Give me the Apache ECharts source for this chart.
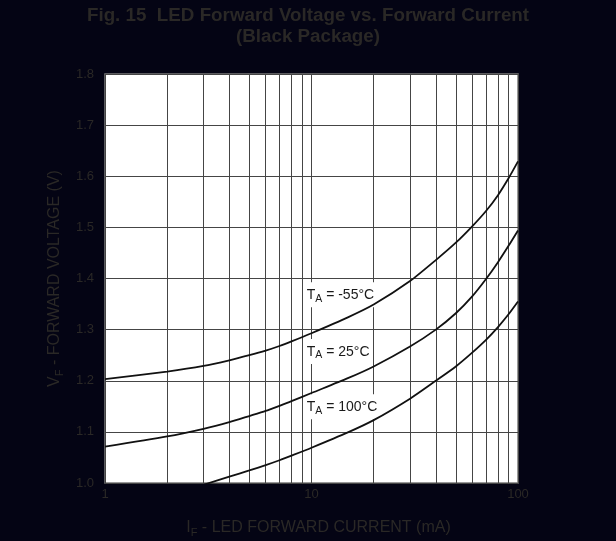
<!DOCTYPE html>
<html><head><meta charset="utf-8">
<script src="https://cdn.jsdelivr.net/npm/echarts@6/dist/echarts.min.js"></script>
<style>html,body{margin:0;padding:0;background:#040414;}#c{width:616px;height:541px;}</style>
</head><body><div id="c"></div>
<script>
// Forward current (mA)
const currents = [1, 2, 3, 4, 5, 6, 7, 8, 10, 15, 20, 30, 40, 50, 60, 70, 80, 90, 100];
// Forward voltage (V) per ambient temperature
const vMinus55 = [1.203, 1.218, 1.229, 1.240, 1.250, 1.259, 1.268, 1.277, 1.293, 1.324, 1.349, 1.395, 1.436, 1.470, 1.502, 1.532, 1.563, 1.596, 1.629];
const v25      = [1.071, 1.091, 1.106, 1.119, 1.131, 1.141, 1.151, 1.160, 1.176, 1.205, 1.228, 1.267, 1.300, 1.332, 1.365, 1.399, 1.432, 1.464, 1.494];
const v100     = [null, null, 0.9965, 1.0125, 1.0245, 1.035, 1.0445, 1.0535, 1.069, 1.099, 1.123, 1.165, 1.200, 1.228, 1.255, 1.280, 1.305, 1.330, 1.355];
const tempLabels = ['-55°C', '25°C', '100°C'];
// Axis ticks
const xTickValues = [1, 10, 100];
const xTickLabels = ['1', '10', '100'];
const xMinorGrid = [2, 3, 4, 5, 6, 7, 8, 9, 20, 30, 40, 50, 60, 70, 80, 90];
const yTickLabels = ['1.0', '1.1', '1.2', '1.3', '1.4', '1.5', '1.6', '1.7', '1.8'];

const TXT = '#2a2826';
const GRIDC = '#454545';
const FONT = 'Liberation Sans, Arial';
const pairs = (ys) => currents.map((x, i) => [x, ys[i]]).filter(p => p[1] !== null);

function curve(ys, label, coord) {
  return {
    type: 'line', data: pairs(ys), smooth: 0.25, showSymbol: false, symbol: 'none',
    lineStyle: { color: '#111', width: 1.8 }, z: 5, clip: true,
    markPoint: {
      symbol: 'circle', symbolSize: 0, silent: true,
      data: [{ coord: coord }],
      label: {
        show: true, position: 'right', distance: 0,
        backgroundColor: '#ffffff', padding: [4, 2, 3, 2],
        formatter: '{t|T}{s|A}{t| = ' + label + '}',
        rich: {
          t: { fontSize: 14, color: '#1a1a1a', fontFamily: FONT, lineHeight: 18 },
          s: { fontSize: 10.5, color: '#1a1a1a', fontFamily: FONT, lineHeight: 10, verticalAlign: 'bottom' }
        }
      }
    }
  };
}

const chart = echarts.init(document.getElementById('c'), null, { renderer: 'canvas' });
chart.setOption({
  backgroundColor: '#040414',
  animation: false,
  title: {
    text: 'Fig. 15  LED Forward Voltage vs. Forward Current\n(Black Package)',
    left: 'center', top: 5, padding: [0, 0, 0, 8],
    textStyle: { color: TXT, fontSize: 18.8, fontWeight: 'bold', fontFamily: FONT, lineHeight: 21.5 }
  },
  grid: {
    left: 105, right: 98, top: 74, bottom: 58, show: true, outerBoundsMode: 'none', containLabel: false,
    backgroundColor: '#ffffff', borderColor: '#7a7a7a', borderWidth: 1.5
  },
  xAxis: {
    type: 'log', logBase: 10, min: 1, max: 100, splitNumber: 2,
    axisLine: { show: false }, axisTick: { show: false },
    splitLine: { show: true, lineStyle: { color: GRIDC, width: 1 } },
    axisLabel: {
      color: TXT, fontSize: 13, fontFamily: FONT, margin: 5,
      formatter: (v) => { const i = xTickValues.indexOf(Math.round(v)); return i >= 0 ? xTickLabels[i] : ''; }
    },
    name: '{a|I}{s|F}{a| - LED FORWARD CURRENT (mA)}',
    nameLocation: 'middle', nameGap: 35,
    nameTextStyle: {
      padding: [0, 0, 0, 14],
      rich: {
        a: { fontSize: 16, color: TXT, fontFamily: FONT, lineHeight: 20 },
        s: { fontSize: 11, color: TXT, fontFamily: FONT, lineHeight: 11, verticalAlign: 'bottom' }
      }
    }
  },
  yAxis: {
    type: 'value', min: 1.0, max: 1.8, interval: 0.1,
    axisLine: { show: false }, axisTick: { show: false },
    splitLine: { show: true, lineStyle: { color: GRIDC, width: 1 } },
    axisLabel: {
      color: TXT, fontSize: 13, fontFamily: FONT, margin: 11,
      formatter: (v) => yTickLabels[Math.round((v - 1.0) * 10)] || ''
    },
    name: '{a|V}{s|F}{a| - FORWARD VOLTAGE (V)}',
    nameLocation: 'middle', nameGap: 35,
    nameTextStyle: {
      rich: {
        a: { fontSize: 16, color: TXT, fontFamily: FONT, lineHeight: 20 },
        s: { fontSize: 11, color: TXT, fontFamily: FONT, lineHeight: 11, verticalAlign: 'bottom' }
      }
    }
  },
  series: [
    {
      type: 'line', data: [], z: 1, silent: true,
      markLine: {
        silent: true, symbol: 'none', animation: false,
        label: { show: false },
        lineStyle: { color: GRIDC, width: 1, type: 'solid' },
        data: xMinorGrid.map(v => ({ xAxis: v }))
      }
    },
    curve(vMinus55, tempLabels[0], [9.27, 1.368]),
    curve(v25, tempLabels[1], [9.27, 1.257]),
    curve(v100, tempLabels[2], [9.27, 1.149])
  ]
});
</script></body></html>
